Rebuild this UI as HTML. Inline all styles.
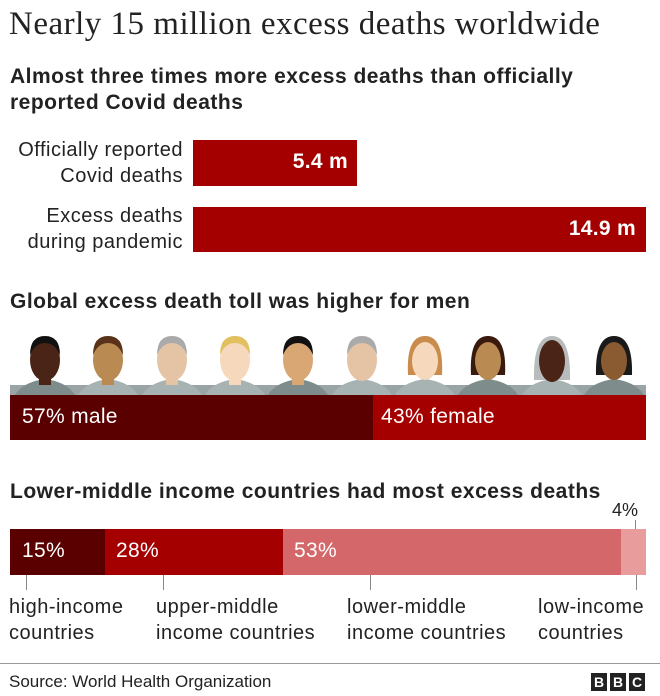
<!DOCTYPE html><html><head><style>
body{margin:0;width:660px;height:696px;background:#fff;position:relative;font-family:"Liberation Sans",sans-serif;color:#222;overflow:hidden}
.a{position:absolute;white-space:nowrap}
.b{font-weight:bold;font-size:21px;letter-spacing:0.5px}
.l{font-size:20px;line-height:26px;letter-spacing:0.5px}
.w{color:#fff;font-size:21px;letter-spacing:0.3px}
</style></head><body>
<div class="a" style="left:9px;top:6px;font-family:'Liberation Serif',serif;font-size:33px;letter-spacing:0.5px;color:#222">Nearly 15 million excess deaths worldwide</div>
<div class="a b" style="left:10px;top:64px;line-height:26px">Almost three times more excess deaths than officially<br>reported Covid deaths</div>
<div class="a l" style="right:477px;top:137px;text-align:right">Officially reported<br>Covid deaths</div>
<div class="a l" style="right:477px;top:203px;text-align:right">Excess deaths<br>during pandemic</div>
<div class="a" style="left:193px;top:140px;width:164px;height:46px;background:#a50000"></div>
<div class="a w" style="right:312px;top:150px;font-weight:bold">5.4 m</div>
<div class="a" style="left:193px;top:207px;width:453px;height:45px;background:#a50000"></div>
<div class="a w" style="right:24px;top:217px;font-weight:bold">14.9 m</div>
<div class="a b" style="left:10px;top:290px">Global excess death toll was higher for men</div>
<svg class="a" style="left:0;top:335px" width="660" height="110">
<rect x="10" y="50" width="636" height="10" fill="#9aa4a4"/>
<g>
<g transform="translate(45,0)"><path d="M-30 60 Q-22 47 0 44 Q22 47 30 60Z" fill="#7f8c8c"/><rect x="-6" y="36" width="12" height="14" fill="#4a2416"/><ellipse cx="0" cy="25" rx="15" ry="21" fill="#4a2416"/><path d="M-15 20 Q-15 1 0 1 Q15 1 15 20 Q10 8 0 8 Q-10 8 -15 20Z" fill="#111"/></g>
<g transform="translate(108,0)"><path d="M-30 60 Q-22 47 0 44 Q22 47 30 60Z" fill="#a7b3b3"/><rect x="-6" y="36" width="12" height="14" fill="#b98a52"/><ellipse cx="0" cy="25" rx="15" ry="21" fill="#b98a52"/><path d="M-15 20 Q-15 1 0 1 Q15 1 15 20 Q10 8 0 8 Q-10 8 -15 20Z" fill="#5a3219"/></g>
<g transform="translate(172,0)"><path d="M-30 60 Q-22 47 0 44 Q22 47 30 60Z" fill="#a7b3b3"/><rect x="-6" y="36" width="12" height="14" fill="#e4c4a4"/><ellipse cx="0" cy="25" rx="15" ry="21" fill="#e4c4a4"/><path d="M-15 20 Q-15 1 0 1 Q15 1 15 20 Q10 8 0 8 Q-10 8 -15 20Z" fill="#aaa"/></g>
<g transform="translate(235,0)"><path d="M-30 60 Q-22 47 0 44 Q22 47 30 60Z" fill="#a7b3b3"/><rect x="-6" y="36" width="12" height="14" fill="#f6d9bc"/><ellipse cx="0" cy="25" rx="15" ry="21" fill="#f6d9bc"/><path d="M-15 20 Q-15 1 0 1 Q15 1 15 20 Q10 8 0 8 Q-10 8 -15 20Z" fill="#e2c060"/></g>
<g transform="translate(298,0)"><path d="M-30 60 Q-22 47 0 44 Q22 47 30 60Z" fill="#7f8c8c"/><rect x="-6" y="36" width="12" height="14" fill="#d9a774"/><ellipse cx="0" cy="25" rx="15" ry="21" fill="#d9a774"/><path d="M-15 20 Q-15 1 0 1 Q15 1 15 20 Q10 8 0 8 Q-10 8 -15 20Z" fill="#111"/></g>
<g transform="translate(362,0)"><path d="M-30 60 Q-22 47 0 44 Q22 47 30 60Z" fill="#a7b3b3"/><ellipse cx="0" cy="25" rx="15" ry="21" fill="#e4c4a4"/><path d="M-15 20 Q-15 1 0 1 Q15 1 15 20 Q10 8 0 8 Q-10 8 -15 20Z" fill="#aaa"/></g>
<g transform="translate(425,0)"><path d="M-30 60 Q-22 47 0 44 Q22 47 30 60Z" fill="#a7b3b3"/><path d="M-17 40 Q-19 1 0 1 Q19 1 17 40Z" fill="#c98c4c"/><ellipse cx="0" cy="26" rx="13" ry="19" fill="#f6d9bc"/></g>
<g transform="translate(488,0)"><path d="M-30 60 Q-22 47 0 44 Q22 47 30 60Z" fill="#7f8c8c"/><path d="M-17 40 Q-19 1 0 1 Q19 1 17 40Z" fill="#3a1a0e"/><ellipse cx="0" cy="26" rx="13" ry="19" fill="#b98a52"/></g>
<g transform="translate(552,0)"><path d="M-30 60 Q-22 47 0 44 Q22 47 30 60Z" fill="#a7b3b3"/><path d="M-18 45 Q-19 1 0 1 Q19 1 18 45Z" fill="#b8bcbc"/><ellipse cx="0" cy="26" rx="13" ry="21" fill="#4a2416"/></g>
<g transform="translate(614,0)"><path d="M-30 60 Q-22 47 0 44 Q22 47 30 60Z" fill="#7f8c8c"/><path d="M-18 40 Q-19 1 0 1 Q19 1 18 40Z" fill="#1a1a1a"/><ellipse cx="0" cy="26" rx="13" ry="19" fill="#8a5a30"/></g>
</g>
</svg>
<div class="a" style="left:10px;top:395px;width:363px;height:45px;background:#5a0000"></div>
<div class="a" style="left:373px;top:395px;width:273px;height:45px;background:#a50000"></div>
<div class="a w" style="left:22px;top:405px">57% male</div>
<div class="a w" style="left:381px;top:405px">43% female</div>
<div class="a b" style="left:10px;top:480px">Lower-middle income countries had most excess deaths</div>
<div class="a" style="left:612px;top:500px;font-size:18px">4%</div>
<div class="a" style="left:635px;top:520px;width:1px;height:9px;background:#888"></div>
<div class="a" style="left:10px;top:529px;width:95px;height:46px;background:#5a0000"></div>
<div class="a" style="left:105px;top:529px;width:178px;height:46px;background:#a50000"></div>
<div class="a" style="left:283px;top:529px;width:338px;height:46px;background:#d4676a"></div>
<div class="a" style="left:621px;top:529px;width:25px;height:46px;background:#e89c9c"></div>
<div class="a w" style="left:22px;top:539px">15%</div>
<div class="a w" style="left:116px;top:539px">28%</div>
<div class="a w" style="left:294px;top:539px">53%</div>
<div class="a" style="left:26px;top:575px;width:1px;height:15px;background:#888"></div>
<div class="a" style="left:163px;top:575px;width:1px;height:15px;background:#888"></div>
<div class="a" style="left:370px;top:575px;width:1px;height:15px;background:#888"></div>
<div class="a" style="left:636px;top:575px;width:1px;height:15px;background:#888"></div>
<div class="a l" style="left:9px;top:594px">high-income<br>countries</div>
<div class="a l" style="left:156px;top:594px">upper-middle<br>income countries</div>
<div class="a l" style="left:347px;top:594px">lower-middle<br>income countries</div>
<div class="a l" style="left:538px;top:594px">low-income<br>countries</div>
<div class="a" style="left:0;top:663px;width:660px;height:1px;background:#999"></div>
<div class="a" style="left:9px;top:672px;font-size:17px">Source: World Health Organization</div>
<div class="a" style="left:591px;top:673px;display:flex;gap:3px">
<span style="display:inline-block;width:16px;height:18px;background:#222;color:#fff;font-weight:bold;font-size:14px;text-align:center;line-height:18px">B</span><span style="display:inline-block;width:16px;height:18px;background:#222;color:#fff;font-weight:bold;font-size:14px;text-align:center;line-height:18px">B</span><span style="display:inline-block;width:16px;height:18px;background:#222;color:#fff;font-weight:bold;font-size:14px;text-align:center;line-height:18px">C</span></div>
</body></html>
